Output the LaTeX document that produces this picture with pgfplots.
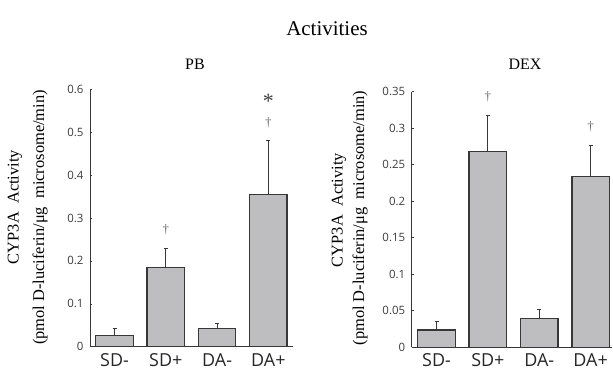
\documentclass[border=0pt]{standalone}
\usepackage{pgfplots}
\pgfplotsset{compat=1.18}
\usepackage{fontspec}
\setmainfont{Liberation Serif}
\newfontfamily\tickfont{Open Sans}
\definecolor{barfill}{RGB}{190,190,192}
\definecolor{barline}{RGB}{55,55,55}
\definecolor{ticktext}{RGB}{60,60,60}
\pgfplotsset{
  common/.style={
    scale only axis,
    anchor=south west,
    axis x line=bottom,
    axis y line=left,
    axis line style={-, line width=0.9bp, color=barline},
    ybar,
    bar width=0.73,
    xtick={0,1,2,3},
    xticklabels={SD-,SD+,DA-,DA+},
    x tick style={draw=none},
    y tick style={line width=0.6bp, color=barline},
    major tick length=2bp,
    tick align=inside,
    /pgf/number format/assume math mode=true,
    /pgf/number format/fixed,
    yticklabel style={font=\tickfont\fontsize{11.5}{13}\selectfont, text=ticktext, xshift=-3bp},
    xticklabel style={font=\tickfont\fontsize{18}{21}\selectfont, text=black!85, yshift=-3bp},
    clip=false,
  },
  barstyle/.style={
    fill=barfill, draw=barline, line width=1.3bp,
    error bars/.cd, y dir=plus, y explicit,
    error bar style={line width=1bp, color=barline},
    error mark options={rotate=90, mark size=2bp, line width=1bp, color=barline},
  },
}
\begin{document}
\begin{tikzpicture}[x=1bp,y=1bp]
\path[use as bounding box] (0,0) rectangle (613,375);
\node[font=\fontsize{21}{24}\selectfont] at (327,346) {Activities};
% PB y label
\node[rotate=90, font=\fontsize{16.5}{19}\selectfont] at (15,168) {CYP3A\ \ Activity};
\node[rotate=90, font=\fontsize{16.5}{19}\selectfont] at (40,157.5) {(pmol D-luciferin/μg\ \ microsome/min)};
% DEX y label
\node[rotate=90, font=\fontsize{16.5}{19}\selectfont] at (339,165) {CYP3A\ \ Activity};
\node[rotate=90, font=\fontsize{16.5}{19}\selectfont] at (360,157) {(pmol D-luciferin/μg\ \ microsome/min)};

\begin{axis}[common, at={(90bp,28.3bp)}, width=203bp, height=257.4bp,
  xmin=-0.478, xmax=3.48, ymin=0, ymax=0.6,
  ytick={0,0.1,0.2,0.3,0.4,0.5,0.6},
  title={PB}, title style={at={(rel axis cs:0.517,1.075)}, anchor=center, font=\fontsize{16}{19}\selectfont}]
\addplot[barstyle] table[x=x, y=y, y error=e] {
x y e
0 0.0266 0.0154
1 0.185 0.044
2 0.042 0.013
3 0.355 0.125
};
\node[font=\fontsize{13}{15}\selectfont, text=black!60] at (axis cs:1,0.273) {†};
\node[font=\fontsize{13}{15}\selectfont, text=black!60] at (axis cs:3,0.522) {†};
\node[font=\fontsize{22}{24}\selectfont, text=black!75] at (axis cs:3,0.572) {*};
\end{axis}

\begin{axis}[common, at={(411.7bp,27.7bp)}, width=200bp, height=255.6bp,
  xmin=-0.483, xmax=3.41, ymin=0, ymax=0.35,
  ytick={0,0.05,0.1,0.15,0.2,0.25,0.3,0.35},
  title={DEX}, title style={at={(rel axis cs:0.567,1.085)}, anchor=center, font=\fontsize{16}{19}\selectfont}]
\addplot[barstyle] table[x=x, y=y, y error=e] {
x y e
0 0.0237 0.0123
1 0.268 0.050
2 0.039 0.013
3 0.2337 0.0423
};
\node[font=\fontsize{13}{15}\selectfont, text=black!60] at (axis cs:1,0.343) {†};
\node[font=\fontsize{13}{15}\selectfont, text=black!60] at (axis cs:3,0.302) {†};
\end{axis}
\end{tikzpicture}
\end{document}
